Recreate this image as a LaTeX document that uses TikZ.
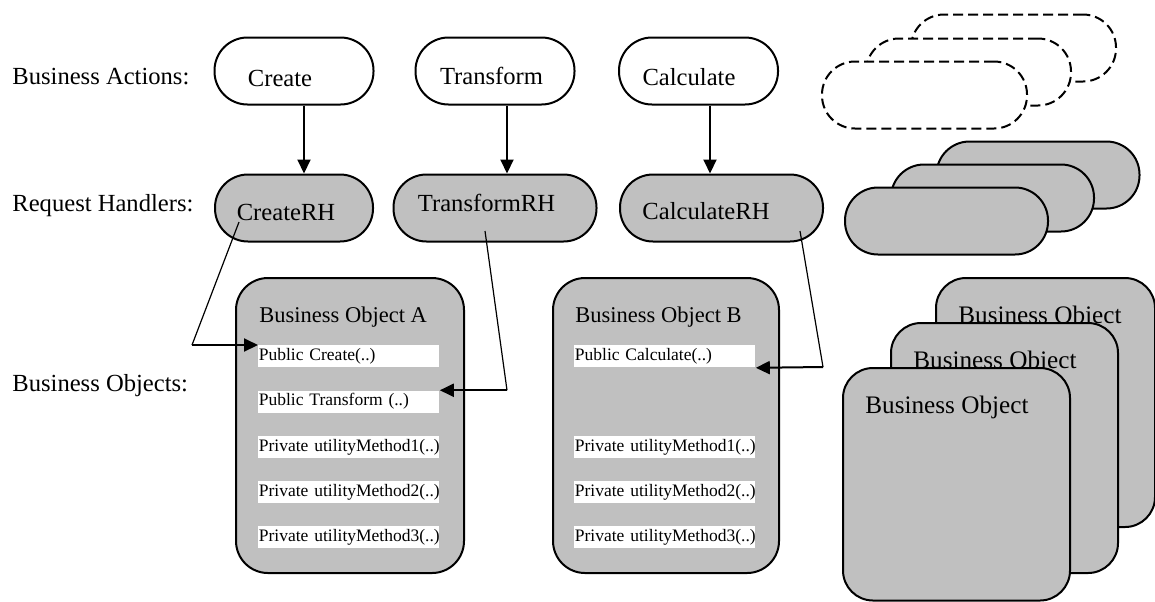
\documentclass[tikz,border=0pt]{standalone}
\usepackage{fontspec}
\setmainfont{Liberation Serif}
\usetikzlibrary{arrows.meta}
\definecolor{bogray}{RGB}{192,192,192}

\tikzset{
  pill/.style={draw, line width=1pt, rounded corners=16.5pt, inner sep=0pt, minimum height=33.5pt},
  action/.style={pill, fill=white, minimum width=79.5pt},
  handler/.style={pill, fill=bogray, minimum width=101.5pt},
  spare/.style={pill, fill=white, dash pattern=on 5pt off 2.5pt, minimum width=102.5pt},
  bobox/.style={draw, line width=1pt, fill=bogray, rounded corners=16pt, inner sep=0pt, anchor=north west},
  botitle/.style={anchor=base west, inner sep=0pt, font=\fontsize{11.25}{13}\selectfont},
  method/.style={anchor=north west, fill=white, inner xsep=0.25pt, inner ysep=0pt, text width=90pt,
    minimum height=11pt, align=left, font=\fontsize{8.75}{10}\selectfont},
  rowlabel/.style={anchor=base west, inner sep=0pt},
  arr/.style={line width=1pt, -{Triangle[length=7pt,width=6.5pt]}},
  feed/.style={line width=0.6pt}
}

\begin{document}
\begin{tikzpicture}[x=0.5pt, y=-0.5pt, font=\fontsize{12.3}{14}\selectfont]
    \useasboundingbox (0,0) rectangle (1155,601);

    % row labels
    \node[rowlabel] (lblactions) at (12,84.5) {Business Actions:};
    \node[rowlabel] (lblhandlers) at (12,211.5) {Request Handlers:};
    \node[rowlabel] (lblobjects) at (12,391.5) {Business Objects:};

    % business actions
    \node[action, label={[shift={(-14,7)}]center:Create}] (create) at (294,71) {};
    \node[action, label={[shift={(-3.5,5)}]center:Transform}] (transform) at (495,71) {};
    \node[action, label={[shift={(-9.5,6.5)}]center:Calculate}] (calculate) at (698.5,71) {};
    \foreach \i/\x/\y in {1/1013.5/48, 2/968.5/72, 3/924.5/95}
        \node[spare] (spareaction\i) at (\x,\y) {};

    % request handlers
    \node[handler, minimum width=79pt, label={[shift={(-8,4.5)}]center:CreateRH}] (createrh) at (294,208) {};
    \node[handler, label={[shift={(-8.5,-5)}]center:TransformRH}] (transformrh) at (495,208) {};
    \node[handler, label={[shift={(-15.5,3.5)}]center:CalculateRH}] (calculaterh) at (721.5,208) {};
    \foreach \i/\x/\y in {1/1038/175, 2/992.5/198, 3/946.5/221}
        \node[handler] (sparehandler\i) at (\x,\y) {};

    \draw[arr] ([xshift=5pt]create.south) -- ([xshift=5pt]createrh.north);
    \draw[arr] ([xshift=6pt]transform.south) -- ([xshift=6pt]transformrh.north);
    \draw[arr] ([xshift=5.75pt]calculate.south) -- ([xshift=-5.75pt]calculaterh.north);

    % business objects
    \node[bobox, minimum width=114pt, minimum height=147.5pt] (boa) at (235,277) {};
    \node[botitle] (boatitle) at (259,322) {Business Object A};
    \foreach \i/\nm/\txt in {0/create/Public Create(..), 1/transform/Public Transform (..),
            2/util1/Private utilityMethod1(..), 3/util2/Private utilityMethod2(..),
            4/util3/Private utilityMethod3(..)}
        \node[method] (a\nm) at (258,345+45.25*\i) {\mbox{\txt}};

    \node[bobox, minimum width=113pt, minimum height=147.5pt] (bob) at (552,277) {};
    \node[botitle] (bobtitle) at (575,322) {Business Object B};
    \foreach \i/\nm/\txt in {0/calculate/Public Calculate(..),
            2/util1/Private utilityMethod1(..), 3/util2/Private utilityMethod2(..),
            4/util3/Private utilityMethod3(..)}
        \node[method] (b\nm) at (574,345+45.25*\i) {\mbox{\txt}};

    \foreach \i/\x/\y/\w/\h in {1/935/277/109.5/124.5, 2/890/322/113.5/125, 3/842/367/113.5/116.25} {
        \node[bobox, minimum width=\w pt, minimum height=\h pt, rounded corners=15pt] (spareobject\i) at (\x,\y) {};
        \node[botitle, font=\fontsize{12.6}{15}\selectfont] (sparetitle\i) at (\x+23,\y+46) {Business Object};
    }

    % handler -> method calls
    \coordinate (bendcreate) at (192,345);
    \coordinate (bendtransform) at (507,390.25);
    \coordinate (bendcalculate) at (823,367);
    \draw[feed] ([shift={(-55,14)}]createrh.center) -- (bendcreate);
    \draw[arr] (bendcreate) -- (acreate.north west);
    \draw[feed] ([shift={(-10,23)}]transformrh.center) -- (bendtransform);
    \draw[arr] (bendtransform) -- (atransform.north east);
    \draw[feed] ([shift={(78.5,23)}]calculaterh.center) -- (bendcalculate);
    \draw[arr] (bendcalculate) -- (bcalculate.south east);
\end{tikzpicture}
\end{document}
